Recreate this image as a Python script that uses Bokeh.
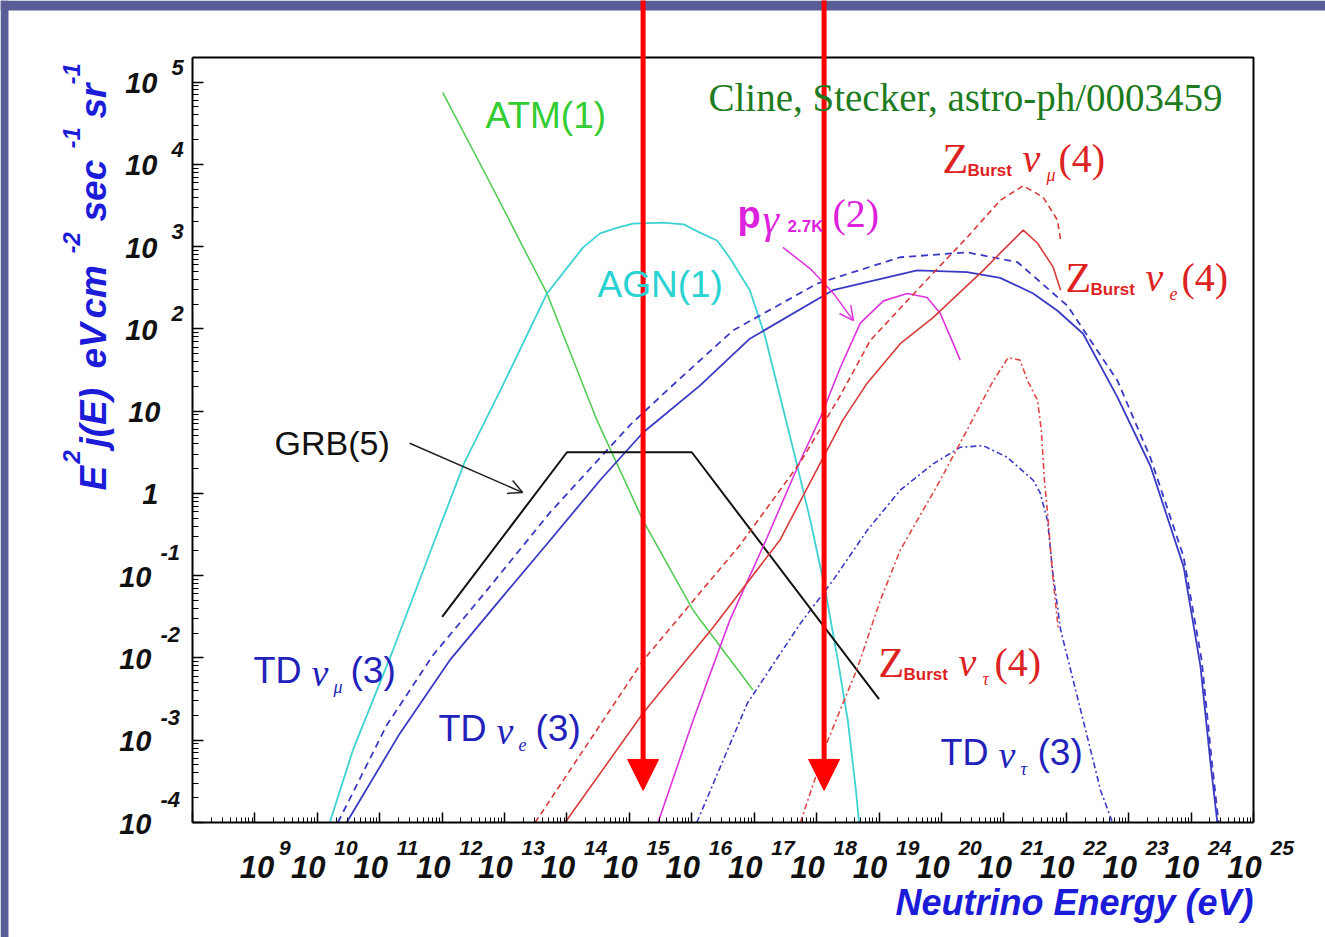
import numpy as np
from bokeh.plotting import figure
from bokeh.models import (Range1d, FixedTicker, Label, Arrow, NormalHead, OpenHead,
                          CustomJSTickFormatter)
from bokeh.embed import file_html
from bokeh.resources import INLINE

# ---------------- data: log10(E / eV) and log10(E^2 j(E)) ----------------
atm_logE = [12.01, 12.75, 13.68, 14.48, 15.22, 16.02, 16.98]
atm_logF = [4.87, 3.80, 2.43, 0.89, -0.33, -1.42, -2.39]

agn_logE = [10.20, 10.57, 11.21, 11.85, 12.36, 12.97, 13.68, 14.01, 14.26, 14.53, 14.81, 15.06,
            15.54, 15.87, 16.13, 16.41, 16.61, 16.93, 17.17, 17.41, 17.65, 17.90, 18.14, 18.34,
            18.50, 18.63, 18.68]
agn_logF = [-4.00, -3.12, -1.91, -0.63, 0.38, 1.31, 2.43, 2.75, 2.99, 3.16, 3.23, 3.28,
            3.29, 3.27, 3.17, 3.07, 2.86, 2.47, 1.92, 1.19, 0.46, -0.33, -1.18, -2.03,
            -2.76, -3.61, -4.00]

td_mu_logE = [10.33, 11.11, 11.85, 12.65, 13.73, 15.01, 15.60, 16.66, 18.01, 19.34, 20.41, 21.22,
              22.02, 22.82, 23.35, 23.88, 24.17, 24.33, 24.44]
td_mu_logF = [-4.00, -2.82, -1.97, -1.24, -0.23, 0.83, 1.25, 1.98, 2.55, 2.87, 2.93, 2.81,
              2.28, 1.37, 0.43, -0.77, -2.03, -3.24, -4.00]

td_e_logE = [10.47, 11.32, 12.12, 12.92, 13.73, 14.53, 15.22, 16.13, 16.93, 18.26, 19.61, 20.41,
             20.94, 21.47, 21.86, 22.27, 22.82, 23.35, 23.88, 24.15, 24.31, 24.42]
td_e_logF = [-4.00, -2.92, -2.03, -1.30, -0.57, 0.16, 0.74, 1.31, 1.88, 2.47, 2.71, 2.69,
             2.62, 2.43, 2.22, 1.94, 1.17, 0.33, -0.89, -2.10, -3.27, -4.00]

td_tau_logE = [16.08, 16.89, 17.74, 18.26, 18.81, 19.34, 19.87, 20.30, 20.67, 21.05, 21.47, 21.58,
               21.70, 21.78, 21.91, 22.15, 22.39, 22.55, 22.74]
td_tau_logF = [-4.00, -2.55, -1.58, -1.06, -0.45, 0.04, 0.36, 0.56, 0.58, 0.44, 0.16, 0.01,
               -0.33, -0.94, -1.66, -2.39, -3.12, -3.61, -4.00]

grb_logE = [12.0, 14.0, 16.0, 19.0]
grb_logF = [-1.5, 0.5, 0.5, -2.5]

pg_logE = [15.46, 16.02, 16.61, 17.21, 17.74, 18.06, 18.38, 18.70, 19.07, 19.45, 19.77, 19.98, 20.19, 20.30]
pg_logF = [-4.00, -2.76, -1.54, -0.53, 0.40, 0.92, 1.53, 2.07, 2.34, 2.43, 2.38, 2.19, 1.82, 1.62]

zb_mu_logE = [13.49, 15.22, 16.77, 17.74, 18.38, 18.86, 19.61, 20.41, 20.94, 21.31, 21.63, 21.86, 21.91]
zb_mu_logF = [-4.00, -2.03, -0.63, 0.38, 1.19, 1.86, 2.47, 3.11, 3.56, 3.74, 3.60, 3.32, 3.07]

zb_e_logE = [13.97, 15.22, 16.34, 17.41, 18.42, 18.81, 19.34, 19.87, 20.67, 20.94, 21.31, 21.54, 21.79, 21.91]
zb_e_logF = [-4.00, -2.67, -1.63, -0.57, 0.89, 1.34, 1.82, 2.14, 2.71, 2.92, 3.20, 3.04, 2.75, 2.47]

zb_tau_logE = [17.74, 18.18, 18.65, 19.02, 19.34, 19.98, 20.41, 20.83, 21.07, 21.26, 21.38, 21.54,
               21.60, 21.65, 21.70, 21.79, 21.87]
zb_tau_logF = [-4.00, -3.00, -2.13, -1.30, -0.69, 0.16, 0.77, 1.37, 1.65, 1.62, 1.37, 1.13,
               0.77, 0.16, -0.24, -1.06, -1.63]

# label pointer arrows (log10 E, log10 F)
grb_ptr_logE = [11.48, 13.29]
grb_ptr_logF = [0.61, 0.01]
pg_ptr_logE = [17.46, 17.90, 18.26, 18.59]
pg_ptr_logF = [2.99, 2.73, 2.44, 2.10]

# red highlight arrows (log10 E of the marked energies, log10 F of the arrow tips)
mark_logE = [15.22, 18.12]
mark_tip_logF = -3.61

# axis tick labels
x_tick_exp = list(range(9, 26))
y_tick_exp = [5, 4, 3, 2, 1, 0, -1, -2, -3, -4]

# ---------------- geometry ----------------
XMIN_LOG, XMAX_LOG = 8.0, 25.0          # plotted axis extent
YMIN_LOG, YMAX_LOG = -4.0, 5.298
W, H = 1325, 937                         # canvas
BOX_L, BOX_R, BOX_T, BOX_B = 192.0, 1253.0, 57.0, 822.0   # plot box in canvas px
FPX = (BOX_R - BOX_L) / (XMAX_LOG - XMIN_LOG)
FPY = (BOX_B - BOX_T) / (YMAX_LOG - YMIN_LOG)

def px_logx(X):
    return XMIN_LOG + (X - BOX_L) / FPX

def px_logy(Y):
    return YMAX_LOG - (Y - BOX_T) / FPY

def page_to_data(X, Y):
    return 10**px_logx(X), 10**px_logy(Y)

# the frame fills the whole canvas so that text and arrows outside the plot box are drawn
p = figure(width=W, height=H, x_axis_type="log", y_axis_type="log",
           x_range=Range1d(10**px_logx(0), 10**px_logx(W)),
           y_range=Range1d(10**px_logy(H), 10**px_logy(0)),
           output_backend="svg", toolbar_location=None, min_border=0)
p.background_fill_color = "white"
p.border_fill_color = "white"
p.outline_line_color = None
p.grid.visible = False

x_major = [10.0**k for k in range(8, 26)]
x_minor = [m * 10.0**k for k in range(8, 25) for m in range(2, 10)]
y_major = [10.0**k for k in range(-4, 6)]
y_minor = [m * 10.0**k for k in range(-4, 5) for m in range(2, 10)]
p.xaxis.ticker = FixedTicker(ticks=x_major, minor_ticks=x_minor)
p.yaxis.ticker = FixedTicker(ticks=y_major, minor_ticks=y_minor)
p.xaxis.fixed_location = 10**YMIN_LOG
p.yaxis.fixed_location = 10**XMIN_LOG
p.xaxis.bounds = (10**XMIN_LOG, 10**XMAX_LOG)
p.yaxis.bounds = (10**YMIN_LOG, 10**YMAX_LOG)
for ax in (p.xaxis[0], p.yaxis[0]):
    ax.formatter = CustomJSTickFormatter(code="return ''")
    ax.axis_line_color = "black"
    ax.axis_line_width = 2
    ax.major_tick_out = 0
    ax.minor_tick_out = 0
    ax.major_tick_line_color = "black"
    ax.minor_tick_line_color = "black"
    ax.major_tick_line_width = 1.5
    ax.minor_tick_line_width = 1
    ax.major_label_text_font_size = "1px"
    ax.major_label_standoff = 0
p.xaxis.major_tick_in = 10
p.xaxis.minor_tick_in = 5
p.yaxis.major_tick_in = 11
p.yaxis.minor_tick_in = 6

# slide background strips and the top/right edges of the plot box
SLIDE = "#5b5e96"
p.quad(left=10**px_logx(0), right=10**px_logx(8), bottom=10**px_logy(H), top=10**px_logy(0),
       fill_color=SLIDE, line_color=None)
p.quad(left=10**px_logx(0), right=10**px_logx(W), bottom=10**px_logy(10), top=10**px_logy(0),
       fill_color=SLIDE, line_color=None)
p.line([10**XMIN_LOG, 10**XMAX_LOG, 10**XMAX_LOG], [10**YMAX_LOG, 10**YMAX_LOG, 10**YMIN_LOG],
       line_color="black", line_width=2)

def pw(a):
    return [10.0**v for v in a]

BLUE = "#3a3ac4"
RED = "#d83a3a"
p.line(pw(atm_logE), pw(atm_logF), line_color="#55cc55", line_width=1.6)
p.line(pw(agn_logE), pw(agn_logF), line_color="#3ed2d2", line_width=1.8)
p.line(pw(td_mu_logE), pw(td_mu_logF), line_color=BLUE, line_width=1.8, line_dash="7 5")
p.line(pw(td_e_logE), pw(td_e_logF), line_color=BLUE, line_width=1.8)
p.line(pw(td_tau_logE), pw(td_tau_logF), line_color=BLUE, line_width=1.6, line_dash="6 3 2 3")
p.line(pw(grb_logE), pw(grb_logF), line_color="#111111", line_width=2)
p.line(pw(pg_logE), pw(pg_logF), line_color="#dd33dd", line_width=1.6)
p.line(pw(zb_mu_logE), pw(zb_mu_logF), line_color=RED, line_width=1.6, line_dash="6 4")
p.line(pw(zb_e_logE), pw(zb_e_logF), line_color=RED, line_width=1.6)
p.line(pw(zb_tau_logE), pw(zb_tau_logF), line_color="#e04848", line_width=1.6, line_dash="6 3 2 3")

# pointer arrows for GRB and p-gamma labels
p.add_layout(Arrow(end=OpenHead(size=14, line_color="#222222", line_width=1.5),
                   x_start=10**grb_ptr_logE[0], y_start=10**grb_ptr_logF[0],
                   x_end=10**grb_ptr_logE[1], y_end=10**grb_ptr_logF[1],
                   line_color="#222222", line_width=1.5))
p.line(pw(pg_ptr_logE[:-1]), pw(pg_ptr_logF[:-1]), line_color="#dd33dd", line_width=1.5)
p.add_layout(Arrow(end=OpenHead(size=14, line_color="#dd33dd", line_width=1.5),
                   x_start=10**pg_ptr_logE[-2], y_start=10**pg_ptr_logF[-2],
                   x_end=10**pg_ptr_logE[-1], y_end=10**pg_ptr_logF[-1],
                   line_color="#dd33dd", line_width=1.5))

# red marker arrows
for e in mark_logE:
    p.add_layout(Arrow(end=NormalHead(size=31, fill_color="#ff0000", line_color="#ff0000", line_width=1),
                       x_start=10**e, y_start=10**px_logy(-5),
                       x_end=10**e, y_end=10**mark_tip_logF,
                       line_color="#ff0000", line_width=5))

# ---------------- text ----------------
def lab(text, X, Y, size, color, font="Liberation Sans", style="normal",
        align="left", baseline="middle", angle=0.0):
    x, y = page_to_data(X, Y)
    p.add_layout(Label(x=x, y=y, text=text, text_font=font, text_font_size=f"{size}px",
                       text_font_style=style, text_color=color, text_align=align,
                       text_baseline=baseline, angle=angle))

TICK = "#111111"
# x tick labels
for k in x_tick_exp:
    X = BOX_L + (k - XMIN_LOG) * FPX
    s = str(k)
    bdx, edx = (-9, 17) if len(s) > 1 else (2, 24)
    lab("10", X + bdx, 866, 31, TICK, style="bold italic", align="center")
    lab(s, X + edx, 847, 21, TICK, style="bold italic", align="left")

# y tick labels
for k in y_tick_exp:
    Y = BOX_T + (YMAX_LOG - k) * FPY
    if k == 0:
        lab("1", 158, Y + 1, 29, TICK, style="bold italic", align="right")
    elif k == 1:
        lab("10", 160, Y + 1, 29, TICK, style="bold italic", align="right")
    elif k > 1:
        lab("10", 157, Y + 1, 29, TICK, style="bold italic", align="right")
        lab(str(k), 171, Y - 15, 22, TICK, style="bold italic", align="left")
    else:
        lab("10", 151, Y + 1, 29, TICK, style="bold italic", align="right")
        lab("-" + str(-k), 160, Y - 23, 22, TICK, style="bold italic", align="left")

# axis titles
TITLE = "#1c1cd8"
lab("Neutrino Energy (eV)", 1253, 902, 36, TITLE, style="bold italic", align="right")
ANG = np.pi / 2
for t, y0, sup in [("E", 490, False), ("2", 463, True), ("j(E)", 447, False), ("eV", 368, False),
                   ("cm", 318, False), ("-2", 253, True), ("sec", 221, False), ("-1", 148, True),
                   ("sr", 118, False), ("-1", 84, True)]:
    if sup:
        lab(t, 71, y0, 24, TITLE, style="bold italic", baseline="alphabetic", angle=ANG)
    else:
        lab(t, 93, y0, 37, TITLE, style="bold italic", baseline="alphabetic", angle=ANG)

# curve labels
lab("Cline, Stecker, astro-ph/0003459", 708, 97, 39, "#1e7b1e", font="Liberation Serif")
lab("ATM(1)", 485, 115, 37, "#33cc33")
lab("AGN(1)", 597, 284, 37, "#2ad2d2")
lab("GRB(5)", 274, 442, 34, "#111111")

MAG = "#dd22dd"
lab("p", 737, 214, 38, MAG, style="bold")
lab("γ", 762, 218, 42, MAG, font="Liberation Serif", style="italic")
lab("2.7K", 787, 226, 17, MAG, style="bold")
lab("(2)", 832, 213, 40, MAG, font="Liberation Serif")

ZR = "#dd2222"
def zlabel(X, Y, sub):
    lab("Z", X, Y, 42, ZR, font="Liberation Serif")
    lab("Burst", X + 25, Y + 12, 17, ZR, style="bold")
    lab("ν", X + 80, Y, 40, ZR, font="Liberation Serif", style="italic")
    lab(sub, X + 104, Y + 16, 18, ZR, font="Liberation Serif", style="italic")
    lab("(4)", X + 116, Y, 40, ZR, font="Liberation Serif")

zlabel(942, 158, "μ")
zlabel(1065, 277, "e")
zlabel(878, 662, "τ")

TB = "#2222bb"
def tdlabel(X, Y, sub):
    lab("TD", X, Y, 36, TB)
    lab("ν", X + 58, Y + 2, 38, TB, font="Liberation Serif", style="italic")
    lab(sub, X + 80, Y + 16, 18, TB, font="Liberation Serif", style="italic")
    lab("(3)", X + 97, Y, 37, TB)

tdlabel(253, 670, "μ")
tdlabel(438, 728, "e")
tdlabel(940, 752, "τ")

open("out.html", "w").write(file_html(p, INLINE))
